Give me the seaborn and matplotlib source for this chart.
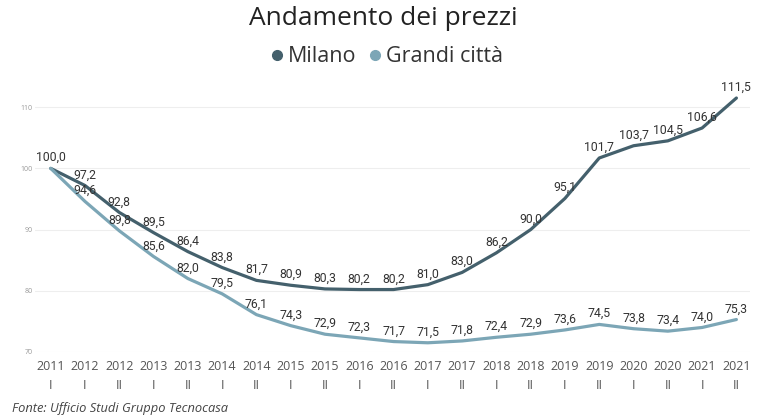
import pandas as pd
import numpy as np
from matplotlib import pyplot as plt
import seaborn as sns

periods = ["2011\nI", "2012\nI", "2012\nII", "2013\nI", "2013\nII", "2014\nI", "2014\nII",
           "2015\nI", "2015\nII", "2016\nI", "2016\nII", "2017\nI", "2017\nII", "2018\nI",
           "2018\nII", "2019\nI", "2019\nII", "2020\nI", "2020\nII", "2021\nI", "2021\nII"]
milano = [100.0, 97.2, 92.8, 89.5, 86.4, 83.8, 81.7, 80.9, 80.3, 80.2, 80.2,
          81.0, 83.0, 86.2, 90.0, 95.1, 101.7, 103.7, 104.5, 106.6, 111.5]
grandi = [100.0, 94.6, 89.8, 85.6, 82.0, 79.5, 76.1, 74.3, 72.9, 72.3, 71.7,
          71.5, 71.8, 72.4, 72.9, 73.6, 74.5, 73.8, 73.4, 74.0, 75.3]
series = ["Milano", "Grandi città"]
colors = ["#44606c", "#7ca6b6"]

df = pd.DataFrame({
    "pos": list(range(len(periods))) * 2,
    "valore": milano + grandi,
    "serie": [series[0]] * len(milano) + [series[1]] * len(grandi),
})

sns.set_style("white")
plt.rcParams['font.family'] = ['Open Sans', 'DejaVu Sans']

fig = plt.figure(figsize=(7.67, 4.19), dpi=100)
ax = fig.add_axes([0.046, 0.16, 0.932, 0.628])

sns.lineplot(data=df, x="pos", y="valore", hue="serie", palette=colors,
             linewidth=2.3, ax=ax, legend=False)

# etichette dei valori (il 100,0 iniziale una volta sola)
for vals, skip_first in [(milano, False), (grandi, True)]:
    for i, v in enumerate(vals):
        if skip_first and i == 0:
            continue
        ax.annotate(f"{v:.1f}".replace(".", ","), (i, v), xytext=(0, 3),
                    textcoords="offset points", ha="center", va="bottom",
                    fontsize=8.8, color="#333333", family=['Roboto', 'DejaVu Sans'])

ax.set_xlim(-0.45, 20.4)
ax.set_ylim(70, 113)
ax.set_xticks(range(len(periods)))
ax.set_xticklabels(periods, fontsize=9, color="#555555", linespacing=1.55)
ax.set_yticks([70, 80, 90, 100, 110])
ax.tick_params(axis="y", labelsize=5, colors="#999999", pad=2, length=0)
ax.tick_params(axis="x", length=0, pad=6)
ax.yaxis.grid(True, color="#eeeeee", linewidth=0.8)
ax.set_xlabel("")
ax.set_ylabel("")
sns.despine(ax=ax, left=True, bottom=True)

fig.text(0.5, 0.955, "Andamento dei prezzi", ha="center", va="center",
         fontsize=19, color="#222222")
handles = [plt.Line2D([], [], marker="o", linestyle="", color=c, markersize=7) for c in colors]
fig.legend(handles, series, loc="center", bbox_to_anchor=(0.5, 0.865), ncol=2,
           frameon=False, fontsize=15.5, handletextpad=-0.1, columnspacing=0.3,
           handlelength=1.2, labelcolor="#333333")

fig.text(0.015, 0.026, "Fonte: Ufficio Studi Gruppo Tecnocasa", ha="left", va="center",
         fontsize=9.3, style="italic", color="#444444")

fig.savefig("out.png", dpi=100)
